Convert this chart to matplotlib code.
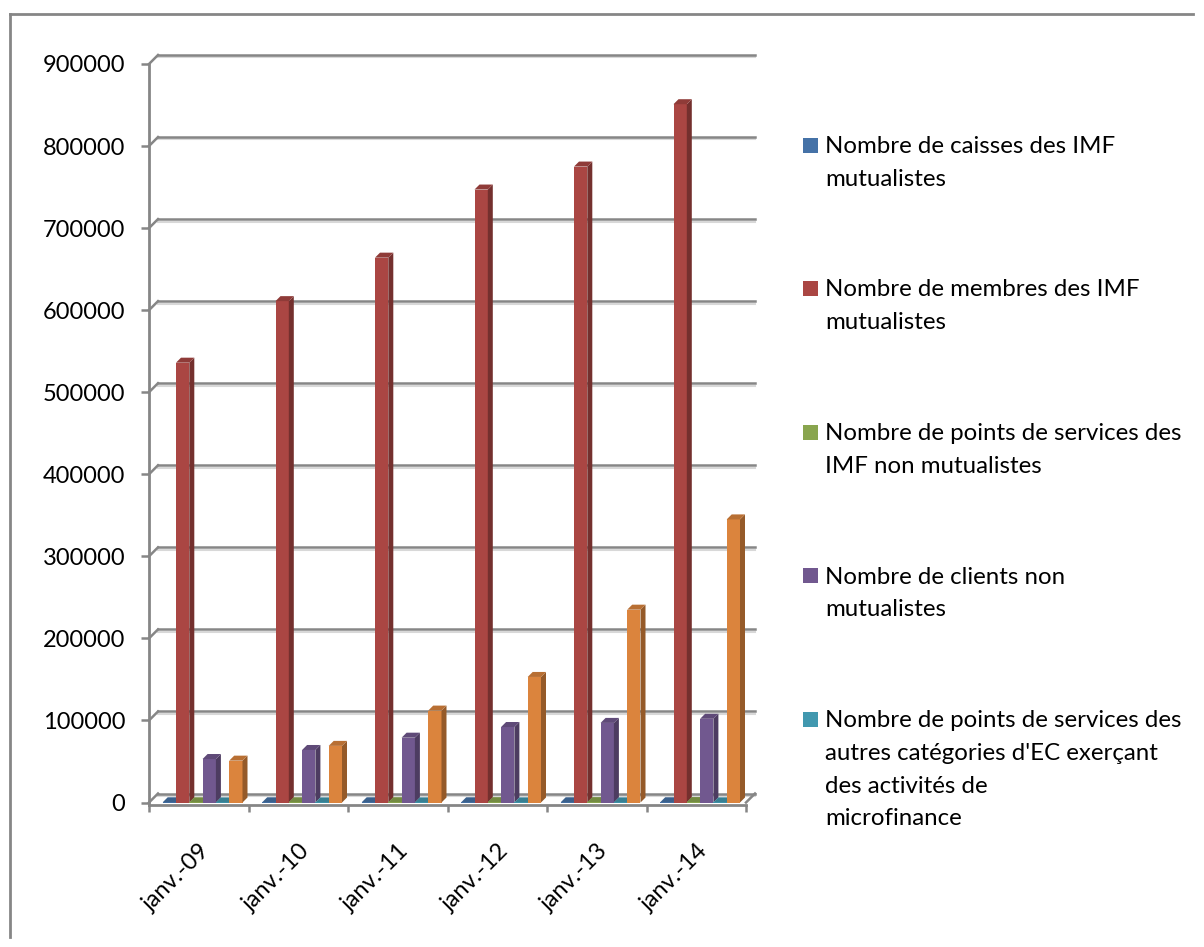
import matplotlib
matplotlib.use("Agg")
import matplotlib.pyplot as plt
from matplotlib.patches import Polygon, Rectangle
from matplotlib.lines import Line2D
import numpy as np

# data
categories = ["janv.-09", "janv.-10", "janv.-11", "janv.-12", "janv.-13", "janv.-14"]
caisses_mut = [250, 260, 270, 280, 290, 300]
membres_mut = [536000, 611000, 664000, 747000, 775000, 851000]
points_non_mut = [300, 350, 400, 450, 500, 550]
clients_non_mut = [53000, 64000, 79000, 92000, 97000, 102000]
points_autres = [150, 160, 170, 180, 190, 200]
clients_autres = [51000, 69000, 112000, 153000, 235000, 345000]

series = [caisses_mut, membres_mut, points_non_mut, clients_non_mut, points_autres, clients_autres]
labels = [
    ["Nombre de caisses des IMF", "mutualistes"],
    ["Nombre de membres des IMF", "mutualistes"],
    ["Nombre de points de services des", "IMF non mutualistes"],
    ["Nombre de clients non", "mutualistes"],
    ["Nombre de points de services des", "autres catégories d'EC exerçant", "des activités de", "microfinance"],
    None,
]
colors = ["#4572A7", "#AA4643", "#89A54E", "#71588F", "#4198AF", "#DB843D"]
yvals = list(range(0, 900001, 100000))

W, H = 1204, 947
plt.rcParams["font.family"] = ["Lato", "DejaVu Sans"]
fig = plt.figure(figsize=(W / 100, H / 100), dpi=100)
ax = fig.add_axes([149 / W, 1 - 805 / H, 597 / W, 741 / H])
px_x = 6 / 597
px_y = 900000 / 738.5
ax.set_xlim(0, 6)
ax.set_ylim(-2.5 * px_y, 900000)
ax.patch.set_alpha(0)

grey = "#868686"


def shade(c, f):
    r, g, b = matplotlib.colors.to_rgb(c)
    return (r * f, g * f, b * f)


# back wall (fake 3D)
dxw, dyw = 9 * px_x, 9 * px_y
for v in yvals:
    ax.plot([dxw, 6 + dxw], [v + dyw - 2.4 * px_y] * 2, color="#d8d8d8", lw=1.5, clip_on=False, zorder=0.5)
    ax.plot([dxw, 6 + dxw], [v + dyw] * 2, color=grey, lw=1.8, clip_on=False, zorder=1)
    ax.plot([0, dxw], [v, v + dyw], color=grey, lw=1.8, clip_on=False, zorder=1)
ax.plot([6, 6 + dxw], [0, dyw], color=grey, lw=1.8, clip_on=False, zorder=1)

# bars with side and top faces
w = 13.3 * px_x
g0 = 13.7 * px_x
bdx, bdy = 5 * px_x, 5 * px_y
x = np.arange(len(categories))
for s, vals in enumerate(series):
    xs = x + g0 + s * w
    ax.bar(xs, vals, width=w, align="edge", color=colors[s], linewidth=0, zorder=3 + s)
    for x0, v in zip(xs, vals):
        side = [(x0 + w, 0), (x0 + w + bdx, bdy), (x0 + w + bdx, v + bdy), (x0 + w, v)]
        top = [(x0, v), (x0 + bdx, v + bdy), (x0 + w + bdx, v + bdy), (x0 + w, v)]
        ax.add_patch(Polygon(side, closed=True, fc=shade(colors[s], 0.68), ec="none", zorder=3 + s, clip_on=False))
        ax.add_patch(Polygon(top, closed=True, fc=shade(colors[s], 0.84), ec="none", zorder=3 + s, clip_on=False))

# axes
for sp in ["top", "right"]:
    ax.spines[sp].set_visible(False)
for sp in ["left", "bottom"]:
    ax.spines[sp].set_color(grey)
    ax.spines[sp].set_linewidth(2)
ax.set_yticks(yvals, [str(v) for v in yvals])
ax.tick_params(axis="y", length=6, width=1.8, color=grey, pad=11, labelsize=17)
ax.set_xticks(x + 0.5 + 8 * px_x, categories, rotation=45, ha="right", va="center", rotation_mode="anchor")
ax.set_xticks(np.arange(7), minor=True)
ax.tick_params(axis="x", which="major", length=0, pad=31, labelsize=17)
ax.tick_params(axis="x", which="minor", length=5, width=1.8, color=grey)

# legend (Excel style, wrapped labels)
for k, lab in enumerate(labels):
    if lab is None:
        continue
    base = 153 + 143.5 * k
    fig.add_artist(Rectangle((803 / W, 1 - base / H), 14.5 / W, 15 / H,
                             transform=fig.transFigure, fc=colors[k], ec="none"))
    for j, line in enumerate(lab):
        fig.text(825 / W, 1 - (base + 32.8 * j) / H, line, fontsize=17.3, va="baseline", ha="left")

# outer frame
fig.add_artist(Line2D([10 / W, 10 / W], [1 - 14 / H, 1 - 937 / H], color=grey, lw=2, transform=fig.transFigure))
fig.add_artist(Line2D([10 / W, 1193 / W], [1 - 14 / H, 1 - 14 / H], color=grey, lw=2, transform=fig.transFigure))

fig.savefig("out.png", dpi=100)
